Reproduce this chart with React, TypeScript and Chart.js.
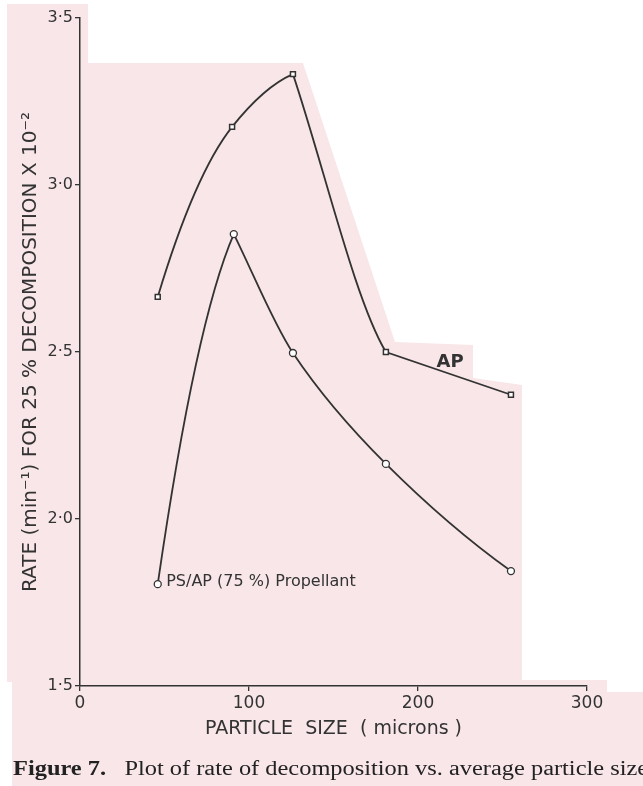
import React, { useEffect, useRef } from "react";
import { Chart, registerables } from "chart.js";

Chart.register(...registerables);

// Data
const apSizes = [46, 90, 126, 181, 255];
const apRates = [2.665, 3.174, 3.332, 2.5, 2.372];
const psSizes = [46, 91, 126, 181, 255];
const psRates = [1.805, 2.853, 2.497, 2.165, 1.844];

const yTicks = [1.5, 2.0, 2.5, 3.0, 3.5];
const xTicks = [0, 100, 200, 300];

const apLabel = { text: "AP", x: 219, y: 2.468 };
const psLabel = { text: "PS/AP (75 %) Propellant", x: 51, y: 1.812 };

const INK = "#333333";
const PINK = "#f8e6e8";
const FONT = "'DejaVu Sans', sans-serif";

const bgPlugin = {
  id: "scanBg",
  beforeDraw(chart: any) {
    const ctx = chart.ctx;
    const pts = [
      [7, 4], [88, 4], [88, 63], [303, 63], [395, 342], [473, 345], [473, 378],
      [522, 385], [522, 680], [607, 680], [607, 692], [643, 692], [643, 786],
      [12, 786], [12, 682], [7, 682],
    ];
    ctx.save();
    ctx.fillStyle = PINK;
    ctx.beginPath();
    pts.forEach((p, i) => (i === 0 ? ctx.moveTo(p[0], p[1]) : ctx.lineTo(p[0], p[1])));
    ctx.closePath();
    ctx.fill();
    ctx.restore();
  },
};

// Hand-drawn style curve: smooth through ordinary points (harmonic-mean tangents),
// sharp corners at peaks and at abrupt slope changes, "natural" end tangents.
const curvePlugin = {
  id: "handCurve",
  beforeDatasetsDraw(chart: any) {
    chart.data.datasets.forEach((_: any, di: number) => {
      const meta = chart.getDatasetMeta(di);
      const line = meta.dataset;
      if (!line) return;
      line.updateControlPoints(chart.chartArea, "x");
      const p = meta.data;
      const n = p.length;
      if (n < 2) return;
      const s: number[] = [];
      for (let i = 0; i < n - 1; i++) s.push((p[i + 1].y - p[i].y) / (p[i + 1].x - p[i].x));
      const tin: number[] = new Array(n).fill(0);
      const tout: number[] = new Array(n).fill(0);
      for (let i = 1; i < n - 1; i++) {
        const a = s[i - 1];
        const b = s[i];
        const extremum = a * b <= 0;
        const ratio = Math.max(Math.abs(a), Math.abs(b)) / Math.max(1e-6, Math.min(Math.abs(a), Math.abs(b)));
        if (extremum || ratio > 4) {
          tin[i] = extremum ? 0.5 * a : 0.5 * (a + b);
          tout[i] = b;
        } else {
          const h = (2 * a * b) / (a + b);
          tin[i] = h;
          tout[i] = h;
        }
      }
      tout[0] = 2 * s[0] - tin[1];
      if (tout[0] * s[0] < 0) tout[0] = s[0];
      tin[n - 1] = 2 * s[n - 2] - tout[n - 2];
      if (tin[n - 1] * s[n - 2] < 0) tin[n - 1] = s[n - 2];
      for (let i = 0; i < n; i++) {
        const pt = p[i];
        if (i > 0) {
          const dx = (pt.x - p[i - 1].x) / 3;
          pt.cp1x = pt.x - dx;
          pt.cp1y = pt.y - tin[i] * dx;
        } else {
          pt.cp1x = pt.x;
          pt.cp1y = pt.y;
        }
        if (i < n - 1) {
          const dx = (p[i + 1].x - pt.x) / 3;
          pt.cp2x = pt.x + dx;
          pt.cp2y = pt.y + tout[i] * dx;
        } else {
          pt.cp2x = pt.x;
          pt.cp2y = pt.y;
        }
      }
    });
  },
};

const labelPlugin = {
  id: "seriesLabels",
  afterDatasetsDraw(chart: any) {
    const ctx = chart.ctx;
    const xs = chart.scales.x;
    const ys = chart.scales.y;
    ctx.save();
    ctx.fillStyle = INK;
    ctx.textBaseline = "middle";
    ctx.font = `bold 18px ${FONT}`;
    ctx.textAlign = "center";
    ctx.fillText(apLabel.text, xs.getPixelForValue(apLabel.x), ys.getPixelForValue(apLabel.y));
    ctx.font = `16px ${FONT}`;
    ctx.textAlign = "left";
    ctx.fillText(psLabel.text, xs.getPixelForValue(psLabel.x), ys.getPixelForValue(psLabel.y));
    ctx.restore();
  },
};

export default function App() {
  const ref = useRef<HTMLCanvasElement>(null);

  useEffect(() => {
    document.body.style.margin = "0";
    const canvas = ref.current!;
    const chart = new Chart(canvas, {
      type: "scatter",
      data: {
        datasets: [
          {
            label: "AP",
            data: apSizes.map((x, i) => ({ x, y: apRates[i] })),
            showLine: true,
            borderColor: INK,
            borderWidth: 1.8,
            tension: 0.4,
            pointStyle: "rect",
            pointRadius: 3.5,
            pointBackgroundColor: "#ffffff",
            pointBorderColor: INK,
            pointBorderWidth: 1.5,
          },
          {
            label: "PS/AP (75 %) Propellant",
            data: psSizes.map((x, i) => ({ x, y: psRates[i] })),
            showLine: true,
            borderColor: INK,
            borderWidth: 1.8,
            tension: 0.4,
            pointStyle: "circle",
            pointRadius: 3.5,
            pointBackgroundColor: "#ffffff",
            pointBorderColor: INK,
            pointBorderWidth: 1.3,
          },
        ],
      },
      options: {
        animation: false,
        responsive: false,
        layout: { padding: { left: 0, top: 18, right: 56, bottom: 46 } },
        plugins: {
          legend: { display: false },
          tooltip: { enabled: false },
        },
        scales: {
          x: {
            type: "linear",
            min: 0,
            max: 300,
            afterBuildTicks: (s: any) => {
              s.ticks = xTicks.map((v) => ({ value: v }));
            },
            afterFit: (s: any) => {
              s.height = 54;
            },
            ticks: {
              color: INK,
              font: { family: FONT, size: 17 },
              padding: 2,
              callback: (v: any) => String(v),
            },
            grid: { drawOnChartArea: false, drawTicks: true, tickLength: 5, color: INK, lineWidth: 1.3 },
            border: { display: true, color: INK, width: 1.5 },
            title: {
              display: true,
              text: "PARTICLE  SIZE  ( microns )",
              color: INK,
              font: { family: FONT, size: 19 },
              padding: { top: 0, bottom: 0 },
            },
          },
          y: {
            type: "linear",
            min: 1.5,
            max: 3.5,
            afterBuildTicks: (s: any) => {
              s.ticks = yTicks.map((v) => ({ value: v }));
            },
            afterFit: (s: any) => {
              s.width = 80;
            },
            ticks: {
              color: INK,
              font: { family: FONT, size: 16 },
              padding: 2,
              callback: (v: any) => Number(v).toFixed(1).replace(".", "·"),
            },
            grid: { drawOnChartArea: false, drawTicks: true, tickLength: 5, color: INK, lineWidth: 1.3 },
            border: { display: true, color: INK, width: 1.5 },
            title: {
              display: true,
              text: "RATE (min⁻¹) FOR 25 % DECOMPOSITION X 10⁻²",
              color: INK,
              font: { family: FONT, size: 20 },
              padding: { top: 19, bottom: 0 },
            },
          },
        },
      },
      plugins: [bgPlugin, curvePlugin, labelPlugin],
    });
    return () => chart.destroy();
  }, []);

  return (
    <div style={{ position: "relative", width: 643, height: 786, overflow: "hidden" }}>
      <canvas ref={ref} width={643} height={786} style={{ display: "block" }} />
      <div
        style={{
          position: "absolute",
          left: 13,
          top: 757,
          fontFamily: "'Liberation Serif', serif",
          fontSize: 20,
          color: "#222",
          whiteSpace: "nowrap",
          transform: "scaleX(1.22)",
          transformOrigin: "left center",
        }}
      >
        <b>Figure 7.</b>
        {"\u00a0\u00a0 Plot of rate of decomposition vs. average particle size"}
      </div>
    </div>
  );
}
